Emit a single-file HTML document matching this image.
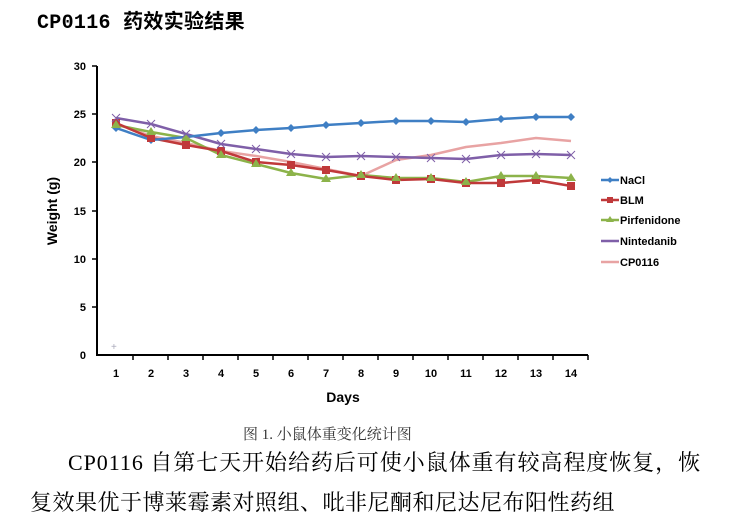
<!DOCTYPE html>
<html><head><meta charset="utf-8"><style>
html,body{margin:0;padding:0;background:#fff;}
body{width:737px;height:528px;position:relative;overflow:hidden;}
.t{position:absolute;white-space:nowrap;}
</style></head><body>
<div class="t" style="left:37px;top:5px;font:bold 20px 'Liberation Mono','Noto Sans CJK SC',monospace;color:#000;letter-spacing:0.3px;">CP0116 药效实验结果</div>
<svg style="position:absolute;left:0;top:0" width="737" height="528">
<g font-family="Liberation Sans,Arial,sans-serif" font-weight="bold" font-size="11" fill="#000">
<line x1="97" y1="66" x2="97" y2="356" stroke="#000" stroke-width="2"/>
<line x1="97" y1="355" x2="588" y2="355" stroke="#000" stroke-width="2"/>
<g stroke="#000" stroke-width="1.5">
<line x1="92" y1="66" x2="97" y2="66"/><line x1="92" y1="114" x2="97" y2="114"/><line x1="92" y1="162" x2="97" y2="162"/><line x1="92" y1="211" x2="97" y2="211"/><line x1="92" y1="259" x2="97" y2="259"/><line x1="92" y1="307" x2="97" y2="307"/>
<line x1="133" y1="355" x2="133" y2="360"/><line x1="168" y1="355" x2="168" y2="360"/><line x1="203" y1="355" x2="203" y2="360"/><line x1="238" y1="355" x2="238" y2="360"/><line x1="273" y1="355" x2="273" y2="360"/><line x1="308" y1="355" x2="308" y2="360"/><line x1="343" y1="355" x2="343" y2="360"/><line x1="378" y1="355" x2="378" y2="360"/><line x1="413" y1="355" x2="413" y2="360"/><line x1="448" y1="355" x2="448" y2="360"/><line x1="483" y1="355" x2="483" y2="360"/><line x1="518" y1="355" x2="518" y2="360"/><line x1="553" y1="355" x2="553" y2="360"/><line x1="588" y1="355" x2="588" y2="360"/>
</g>
<g text-anchor="end"><text x="86" y="70">30</text><text x="86" y="118">25</text><text x="86" y="166">20</text><text x="86" y="215">15</text><text x="86" y="263">10</text><text x="86" y="311">5</text><text x="86" y="359">0</text></g>
<g text-anchor="middle"><text x="116" y="377">1</text><text x="151" y="377">2</text><text x="186" y="377">3</text><text x="221" y="377">4</text><text x="256" y="377">5</text><text x="291" y="377">6</text><text x="326" y="377">7</text><text x="361" y="377">8</text><text x="396" y="377">9</text><text x="431" y="377">10</text><text x="466" y="377">11</text><text x="501" y="377">12</text><text x="536" y="377">13</text><text x="571" y="377">14</text>
<text x="343" y="402" font-size="14">Days</text>
<text transform="translate(57,211) rotate(-90)" font-size="14">Weight (g)</text></g>
<text x="111" y="350" font-weight="normal" fill="#aab" font-size="10">+</text>
</g>
<g fill="none" stroke-width="2.5" stroke-linejoin="round">
<polyline stroke="#e8a3a3" points="116,124 151,136 186,143 221,151 256,156 291,162 326,169 361,176 396,160 431,155 466,147 501,143 536,138 571,141"/>
<polyline stroke="#7f5fa8" points="116,118 151,124 186,134 221,144 256,149 291,154 326,157 361,156 396,157 431,158 466,159 501,155 536,154 571,155"/>
<polyline stroke="#8cb34a" points="116,125 151,132 186,138 221,155 256,164 291,173 326,179 361,175 396,178 431,178 466,182 501,176 536,176 571,178"/>
<polyline stroke="#c0393a" points="116,123 151,138 186,145 221,151 256,162 291,165 326,170 361,176 396,180 431,179 466,183 501,183 536,180 571,186"/>
<polyline stroke="#3f7fc4" points="116,128 151,140 186,137 221,133 256,130 291,128 326,125 361,123 396,121 431,121 466,122 501,119 536,117 571,117"/>
</g>
<g fill="#3f7fc4">
<path d="M116,124l4,4l-4,4l-4,-4z M151,136l4,4l-4,4l-4,-4z M186,133l4,4l-4,4l-4,-4z M221,129l4,4l-4,4l-4,-4z M256,126l4,4l-4,4l-4,-4z M291,124l4,4l-4,4l-4,-4z M326,121l4,4l-4,4l-4,-4z M361,119l4,4l-4,4l-4,-4z M396,117l4,4l-4,4l-4,-4z M431,117l4,4l-4,4l-4,-4z M466,118l4,4l-4,4l-4,-4z M501,115l4,4l-4,4l-4,-4z M536,113l4,4l-4,4l-4,-4z M571,113l4,4l-4,4l-4,-4z"/>
</g>
<g fill="#c0393a">
<rect x="112" y="119" width="8" height="8"/><rect x="147" y="134" width="8" height="8"/><rect x="182" y="141" width="8" height="8"/><rect x="217" y="147" width="8" height="8"/><rect x="252" y="158" width="8" height="8"/><rect x="287" y="161" width="8" height="8"/><rect x="322" y="166" width="8" height="8"/><rect x="357" y="172" width="8" height="8"/><rect x="392" y="176" width="8" height="8"/><rect x="427" y="175" width="8" height="8"/><rect x="462" y="179" width="8" height="8"/><rect x="497" y="179" width="8" height="8"/><rect x="532" y="176" width="8" height="8"/><rect x="567" y="182" width="8" height="8"/>
</g>
<g fill="#8cb34a">
<path d="M116,120l5,8h-10z M151,127l5,8h-10z M186,133l5,8h-10z M221,150l5,8h-10z M256,159l5,8h-10z M291,168l5,8h-10z M326,174l5,8h-10z M361,170l5,8h-10z M396,173l5,8h-10z M431,173l5,8h-10z M466,177l5,8h-10z M501,171l5,8h-10z M536,171l5,8h-10z M571,173l5,8h-10z"/>
</g>
<g stroke="#7f5fa8" stroke-width="1">
<path d="M112,114l8,8m0,-8l-8,8 M147,120l8,8m0,-8l-8,8 M182,130l8,8m0,-8l-8,8 M217,140l8,8m0,-8l-8,8 M252,145l8,8m0,-8l-8,8 M287,150l8,8m0,-8l-8,8 M322,153l8,8m0,-8l-8,8 M357,152l8,8m0,-8l-8,8 M392,153l8,8m0,-8l-8,8 M427,154l8,8m0,-8l-8,8 M462,155l8,8m0,-8l-8,8 M497,151l8,8m0,-8l-8,8 M532,150l8,8m0,-8l-8,8 M567,151l8,8m0,-8l-8,8"/>
</g>
<g font-family="Liberation Sans,Arial,sans-serif" font-weight="bold" font-size="11" fill="#000">
<line x1="601" y1="180" x2="619" y2="180" stroke="#3f7fc4" stroke-width="2.5"/><path d="M610,177l3,3l-3,3l-3,-3z" fill="#3f7fc4"/><text x="620" y="184">NaCl</text>
<line x1="601" y1="200" x2="619" y2="200" stroke="#c0393a" stroke-width="2.5"/><rect x="607" y="197" width="6" height="6" fill="#c0393a"/><text x="620" y="204">BLM</text>
<line x1="601" y1="220" x2="619" y2="220" stroke="#8cb34a" stroke-width="2.5"/><path d="M610,216l4,6h-8z" fill="#8cb34a"/><text x="620" y="224">Pirfenidone</text>
<line x1="601" y1="241" x2="619" y2="241" stroke="#7f5fa8" stroke-width="2.5"/><text x="620" y="245">Nintedanib</text>
<line x1="601" y1="262" x2="619" y2="262" stroke="#e8a3a3" stroke-width="2.5"/><text x="620" y="266">CP0116</text>
</g>
</svg>
<div class="t" style="left:243px;top:423px;font:15px 'Liberation Serif','Noto Serif CJK SC',serif;color:#333;">图 1. 小鼠体重变化统计图</div>
<div class="t" style="left:68px;top:446px;font:22px 'Liberation Serif','Noto Serif CJK SC',serif;letter-spacing:0.95px;color:#000;">CP0116 自第七天开始给药后可使小鼠体重有较高程度恢复，恢</div>
<div class="t" style="left:30px;top:486px;font:22px 'Liberation Serif','Noto Serif CJK SC',serif;letter-spacing:0.5px;color:#000;">复效果优于博莱霉素对照组、吡非尼酮和尼达尼布阳性药组</div>
</body></html>
